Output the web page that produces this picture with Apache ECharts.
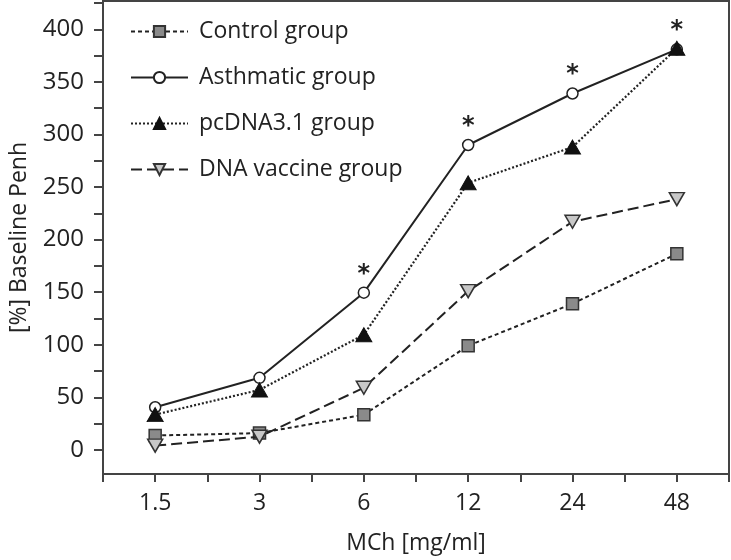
<!DOCTYPE html>
<html>
<head>
<meta charset="utf-8">
<script src="https://cdn.jsdelivr.net/npm/echarts@6/dist/echarts.min.js"></script>
<style>html,body{margin:0;padding:0;background:#fff}#c{width:731px;height:560px}</style>
</head>
<body>
<div id="c"></div>
<script>
var categories = ['1.5', '3', '6', '12', '24', '48'];
var controlGroup = [13.6, 15.9, 33.4, 99, 139, 186.5];
var asthmaticGroup = [40.5, 68.5, 149.5, 290, 339, 381];
var pcdnaGroup = [33.5, 57, 109.5, 254, 288, 382];
var dnaVaccineGroup = [4, 12.5, 59, 151, 217, 238.5];
var sigMarks = ['', '', '*', '*', '*', '*'];
var yLabelValues = [0, 50, 100, 150, 200, 250, 300, 350, 400];
var yTickValues = [0, 25, 50, 75, 100, 125, 150, 175, 200, 225, 250, 275, 300, 325, 350, 375, 400, 425];
var halfSlots = ['', '', '', '', '', '', '', '', '', '', '', ''];

var FONT = 'Open Sans';
var FS = 23;
var dark = '#222';

var asthData = asthmaticGroup.map(function (v, i) {
  return {
    value: v,
    label: {
      show: sigMarks[i] !== '',
      formatter: sigMarks[i],
      position: 'top',
      distance: 0,
      fontSize: 24,
      fontWeight: 'bold',
      fontFamily: 'DejaVu Sans',
      color: dark
    }
  };
});

var chart = echarts.init(document.getElementById('c'), null, {renderer: 'canvas'});
chart.setOption({
  animation: false,
  backgroundColor: '#fff',
  grid: {left: 96, right: 2, top: 1, bottom: 86, show: true, borderColor: '#444', borderWidth: 2, backgroundColor: 'transparent'},
  legend: {
    orient: 'vertical',
    left: 125,
    top: 15,
    itemWidth: 57,
    itemHeight: 14,
    itemGap: 23,
    textStyle: {fontFamily: FONT, fontSize: FS, color: dark, padding: [0, 0, 0, 6]},
    data: ['Control group', 'Asthmatic group', 'pcDNA3.1 group', 'DNA vaccine group']
  },
  xAxis: [{
    type: 'category',
    data: categories,
    boundaryGap: true,
    name: 'MCh [mg/ml]',
    nameLocation: 'middle',
    nameGap: 58,
    nameTextStyle: {fontFamily: FONT, fontSize: FS, color: dark},
    axisLine: {onZero: false, lineStyle: {color: '#444', width: 2}},
    axisTick: {show: false},
    axisLabel: {fontFamily: FONT, fontSize: FS, color: dark, margin: 18},
    splitLine: {show: false}
  }, {
    type: 'category',
    data: halfSlots,
    boundaryGap: true,
    position: 'bottom',
    axisLine: {show: false, onZero: false},
    axisTick: {show: true, length: 8, lineStyle: {color: '#444', width: 2}},
    axisLabel: {show: false},
    splitLine: {show: false}
  }],
  yAxis: {
    type: 'value',
    min: -23,
    max: 427,
    name: '[%] Baseline Penh',
    nameLocation: 'middle',
    nameGap: 72,
    nameTextStyle: {fontFamily: FONT, fontSize: FS, color: dark},
    axisLine: {show: true, onZero: false, lineStyle: {color: '#444', width: 2}},
    axisTick: {show: true, length: 9, customValues: yTickValues, lineStyle: {color: '#444', width: 2}},
    axisLabel: {fontFamily: FONT, fontSize: FS + 1, color: dark, margin: 19, customValues: yLabelValues},
    splitLine: {show: false}
  },
  series: [{
    name: 'Control group',
    type: 'line',
    data: controlGroup,
    symbol: 'rect',
    symbolSize: 12,
    itemStyle: {color: '#8a8a8a', borderColor: '#333', borderWidth: 1.5},
    lineStyle: {color: dark, width: 2, type: [4, 3]},
    z: 2
  }, {
    name: 'DNA vaccine group',
    type: 'line',
    data: dnaVaccineGroup,
    symbol: 'triangle',
    symbolRotate: 180,
    symbolSize: [15, 13],
    itemStyle: {color: '#c8c8c8', borderColor: '#333', borderWidth: 1.5},
    lineStyle: {color: dark, width: 2, type: [11, 5]},
    z: 3
  }, {
    name: 'Asthmatic group',
    type: 'line',
    data: asthData,
    symbol: 'circle',
    symbolSize: 11,
    itemStyle: {color: '#fff', borderColor: dark, borderWidth: 1.5},
    lineStyle: {color: dark, width: 2, type: 'solid'},
    z: 4
  }, {
    name: 'pcDNA3.1 group',
    type: 'line',
    data: pcdnaGroup,
    symbol: 'triangle',
    symbolSize: [16, 14],
    itemStyle: {color: '#111', borderColor: '#111', borderWidth: 1},
    lineStyle: {color: dark, width: 2.2, type: [2, 2]},
    z: 5
  }]
});
</script>
</body>
</html>
